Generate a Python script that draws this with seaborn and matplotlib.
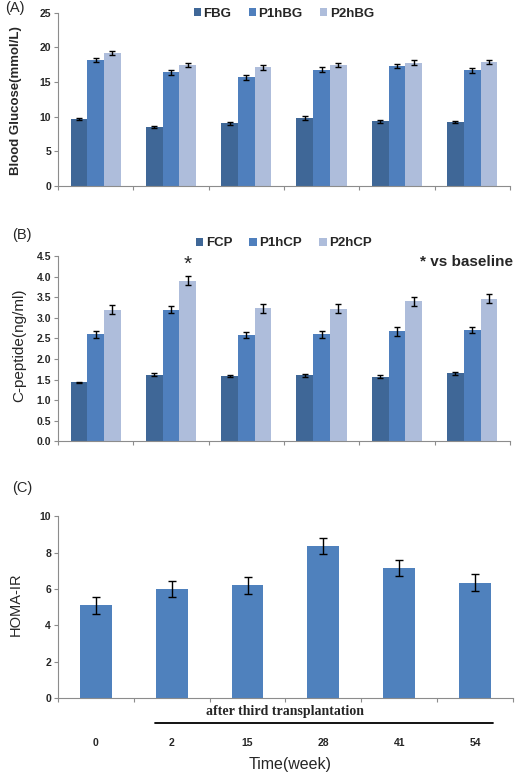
import numpy as np
import pandas as pd
import seaborn as sns
import matplotlib.pyplot as plt

# data
weeks = ['0', '2', '15', '28', '41', '54']

bg_series = ['FBG', 'P1hBG', 'P2hBG']
fbg = [9.7, 8.5, 9.0, 9.8, 9.3, 9.2]
p1hbg = [18.2, 16.4, 15.7, 16.8, 17.3, 16.7]
p2hbg = [19.2, 17.4, 17.1, 17.4, 17.8, 17.9]
fbg_err = [0.15, 0.12, 0.22, 0.25, 0.2, 0.2]
p1hbg_err = [0.3, 0.4, 0.35, 0.35, 0.3, 0.35]
p2hbg_err = [0.25, 0.3, 0.35, 0.3, 0.35, 0.3]

cp_series = ['FCP', 'P1hCP', 'P2hCP']
fcp = [1.43, 1.62, 1.58, 1.60, 1.57, 1.65]
p1hcp = [2.60, 3.20, 2.58, 2.60, 2.67, 2.70]
p2hcp = [3.20, 3.90, 3.23, 3.22, 3.40, 3.47]
fcp_err = [0.02, 0.04, 0.03, 0.03, 0.04, 0.03]
p1hcp_err = [0.09, 0.09, 0.08, 0.09, 0.10, 0.08]
p2hcp_err = [0.11, 0.11, 0.10, 0.11, 0.11, 0.10]

homa = [5.1, 6.0, 6.2, 8.35, 7.15, 6.35]
homa_err = [0.45, 0.45, 0.45, 0.45, 0.45, 0.47]

colors = ['#3f6797', '#4f7fbd', '#aebddb']

sns.set_style('white')
plt.rcParams['font.family'] = ['Liberation Sans', 'DejaVu Sans']


def long_df(series, values, errs):
    rows = []
    for s, v, e in zip(series, values, errs):
        for w, vi, ei in zip(weeks, v, e):
            rows.append({'week': w, 'series': s, 'value': vi, 'err': ei})
    return pd.DataFrame(rows)


def style_axis(ax, ymax, step, fmt):
    for side in ['top', 'right']:
        ax.spines[side].set_visible(False)
    for side in ['left', 'bottom']:
        ax.spines[side].set_color('#8c8c8c')
        ax.spines[side].set_linewidth(0.8)
    ax.set_xlim(-0.5, 5.5)
    ax.set_ylim(0, ymax)
    ticks = np.arange(0, ymax + step / 2, step)
    ax.set_yticks(ticks)
    ax.set_yticklabels([fmt.format(t) for t in ticks], fontsize=7.5, fontweight='bold')
    ax.set_xticks(np.arange(-0.5, 6, 1))
    ax.set_xticklabels([])
    ax.tick_params(axis='both', direction='out', length=3, width=0.8,
                   color='#8c8c8c', left=True, bottom=True, pad=2)
    ax.set_xlabel('')
    ax.set_ylabel('')


def grouped(ax, df, series):
    sns.barplot(data=df, x='week', y='value', hue='series', hue_order=series,
                palette=colors, width=0.667, errorbar=None, ax=ax,
                saturation=1, linewidth=0)
    for cont, s in zip(ax.containers, series):
        sub = df[df['series'] == s]
        xs = [b.get_x() + b.get_width() / 2 for b in cont]
        ax.errorbar(xs, sub['value'], yerr=sub['err'], fmt='none',
                    ecolor='black', elinewidth=1, capsize=2.5, capthick=1)
    handles, labels = ax.get_legend_handles_labels()
    return handles, labels


legend_kw = dict(loc='center', ncol=3, frameon=False, handlelength=0.55,
                 handleheight=0.55, handletextpad=0.2, columnspacing=1.3,
                 prop={'weight': 'bold', 'size': 9.5})

fig = plt.figure(figsize=(5.2, 7.74), dpi=100)

# (A) blood glucose
ax1 = fig.add_axes([0.1115, 0.760, 0.869, 0.2235])
h, l = grouped(ax1, long_df(bg_series, [fbg, p1hbg, p2hbg],
                            [fbg_err, p1hbg_err, p2hbg_err]), bg_series)
style_axis(ax1, 25, 5, '{:.0f}')
ax1.legend(h, l, bbox_to_anchor=(0.5, 0.995), **legend_kw)

# (B) C-peptide
ax2 = fig.add_axes([0.1115, 0.430, 0.869, 0.239])
h, l = grouped(ax2, long_df(cp_series, [fcp, p1hcp, p2hcp],
                            [fcp_err, p1hcp_err, p2hcp_err]), cp_series)
style_axis(ax2, 4.5, 0.5, '{:.1f}')
ax2.legend(h, l, bbox_to_anchor=(0.5, 1.07), **legend_kw)
ax2.text(1.222, 4.06, '*', ha='center', va='bottom', fontsize=15)
ax2.text(1.008, 0.968, '* vs baseline', transform=ax2.transAxes, ha='right',
         va='center', fontsize=11, fontweight='bold')

# (C) HOMA-IR
ax3 = fig.add_axes([0.1115, 0.098, 0.875, 0.235])
sns.barplot(x=weeks, y=homa, color='#4f81bd', width=0.42, saturation=1,
            linewidth=0, ax=ax3)
ax3.errorbar(np.arange(len(weeks)), homa, yerr=homa_err, fmt='none',
             ecolor='black', elinewidth=1, capsize=3, capthick=1)
style_axis(ax3, 10, 2, '{:.0f}')
ax3.set_xticks(np.arange(len(weeks)), minor=True)
ax3.set_xticklabels(weeks, minor=True, fontsize=7.5, fontweight='bold')
ax3.tick_params(axis='x', which='minor', length=0, pad=29)
ax3.text(0.5, -0.071, 'after third transplantation', transform=ax3.transAxes,
         ha='center', va='center', fontsize=10, fontweight='bold',
         family='Liberation Serif')
ax3.plot([0.78, 5.23], [-0.137, -0.137], color='black', lw=1.3,
         transform=ax3.get_xaxis_transform(), clip_on=False)

# labels
fig.text(16 / 520, 1 - 101 / 774, 'Blood Glucose(mmol/L)', rotation=90,
         ha='center', va='center', fontsize=9.5, fontweight='bold')
fig.text(19 / 520, 1 - 345 / 774, 'C-peptide(ng/ml)', rotation=90,
         ha='center', va='center', fontsize=11)
fig.text(16 / 520, 1 - 604 / 774, 'HOMA-IR', rotation=90,
         ha='center', va='center', fontsize=10.5)
fig.text(290 / 520, 1 - 764 / 774, 'Time(week)', ha='center', va='center',
         fontsize=11.5)

fig.text(15 / 520, 1 - 8 / 774, '(A)', ha='center', va='center', fontsize=10.5)
fig.text(22 / 520, 1 - 235 / 774, '(B)', ha='center', va='center', fontsize=10.5)
fig.text(22 / 520, 1 - 488 / 774, '(C)', ha='center', va='center', fontsize=10.5)

fig.savefig('out.png', dpi=100)
